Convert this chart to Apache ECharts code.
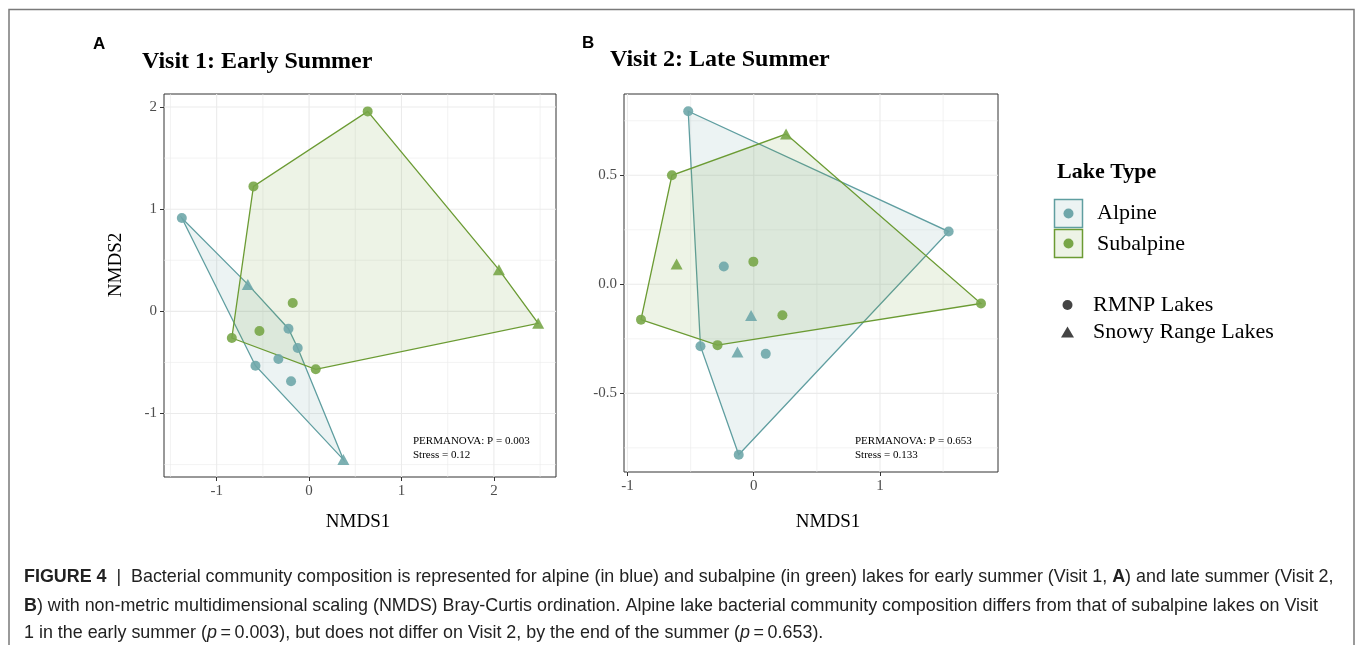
<!DOCTYPE html>
<html>
<head>
<meta charset="utf-8">
<title>NMDS ordination of lake bacterial communities</title>
<script src="https://cdn.jsdelivr.net/npm/echarts@6/dist/echarts.min.js"></script>
<style>
  html, body { margin: 0; padding: 0; background: #ffffff; }
  #chart { width: 1357px; height: 645px; }
</style>
</head>
<body>
<div id="chart"></div>
<script>
// NMDS scores [NMDS1, NMDS2] by visit, lake type and lake group
const v1AlpineRMNP      = [[-1.377, 0.913], [-0.223, -0.170], [-0.123, -0.359], [-0.332, -0.466], [-0.580, -0.532], [-0.195, -0.685]];
const v1AlpineSnowy     = [[-0.663, 0.264], [0.371, -1.451]];
const v1SubalpineRMNP   = [[0.634, 1.957], [-0.602, 1.223], [-0.177, 0.082], [-0.537, -0.192], [-0.836, -0.261], [0.072, -0.567]];
const v1SubalpineSnowy  = [[2.054, 0.408], [2.479, -0.117]];

const v2AlpineRMNP      = [[-0.519, 0.794], [1.544, 0.242], [-0.119, -0.782], [-0.422, -0.284], [-0.237, 0.082], [0.095, -0.319]];
const v2AlpineSnowy     = [[-0.021, -0.143], [-0.129, -0.311]];
const v2SubalpineRMNP   = [[-0.648, 0.500], [1.800, -0.088], [-0.893, -0.162], [-0.287, -0.279], [-0.003, 0.104], [0.227, -0.142]];
const v2SubalpineSnowy  = [[0.256, 0.689], [-0.611, 0.093]];

// Axis ticks and their labels
const v1XTicks = [-1, 0, 1, 2];
const v1YTicks = [-1, 0, 1, 2];
const v2XTicks = [-1, 0, 1];
const v2YTicks = [-0.5, 0, 0.5];
const v2YTickLabels = ['-0.5', '0.0', '0.5'];

// Test statistics printed in each panel
const permanovaP = ['0.003', '0.653'];
const stressValues = ['0.12', '0.133'];

const panelTitles = ['Visit 1: Early Summer', 'Visit 2: Late Summer'];
const lakeTypes = ['Alpine', 'Subalpine'];
const lakeGroups = ['RMNP Lakes', 'Snowy Range Lakes'];

// Colours
const ALPINE_LINE = '#5f9ea0';
const ALPINE_PT = '#6fa7aa';
const SUB_LINE = '#6b9b33';
const SUB_PT = '#78a648';
const GRID_COL = '#ebebeb';
const SERIF = '"Liberation Serif", "DejaVu Serif", serif';
const SANS = '"Liberation Sans", Arial, Helvetica, sans-serif';

function rgba(hex, a) {
  const n = parseInt(hex.slice(1), 16);
  return 'rgba(' + (n >> 16) + ',' + ((n >> 8) & 255) + ',' + (n & 255) + ',' + a + ')';
}

// Convex hull (monotone chain), counter-clockwise
function convexHull(pts) {
  const p = pts.slice().sort((a, b) => a[0] - b[0] || a[1] - b[1]);
  const cross = (o, a, b) => (a[0] - o[0]) * (b[1] - o[1]) - (a[1] - o[1]) * (b[0] - o[0]);
  const lower = [], upper = [];
  for (const q of p) {
    while (lower.length >= 2 && cross(lower[lower.length - 2], lower[lower.length - 1], q) <= 0) lower.pop();
    lower.push(q);
  }
  for (let i = p.length - 1; i >= 0; i--) {
    const q = p[i];
    while (upper.length >= 2 && cross(upper[upper.length - 2], upper[upper.length - 1], q) <= 0) upper.pop();
    upper.push(q);
  }
  upper.pop(); lower.pop();
  return lower.concat(upper);
}

// Axis limits with 5% padding on each side of the data range
function paddedRange(groups, dim) {
  const vals = [].concat(...groups).map(p => p[dim]);
  const lo = Math.min(...vals), hi = Math.max(...vals);
  const pad = (hi - lo) * 0.05;
  return [lo - pad, hi + pad];
}

// Minor grid values halfway between major ticks, kept inside the axis range
function minorValues(ticks, range) {
  const step = ticks[1] - ticks[0];
  const out = [];
  for (let v = ticks[0] - step / 2; v <= range[1]; v += step) {
    if (v >= range[0]) out.push(+v.toFixed(6));
  }
  return out;
}

const panels = [
  { alpine: [v1AlpineRMNP, v1AlpineSnowy], sub: [v1SubalpineRMNP, v1SubalpineSnowy],
    xTicks: v1XTicks, yTicks: v1YTicks, yLabels: v1YTicks.map(String),
    grid: { left: 164, top: 94, width: 392, height: 383 } },
  { alpine: [v2AlpineRMNP, v2AlpineSnowy], sub: [v2SubalpineRMNP, v2SubalpineSnowy],
    xTicks: v2XTicks, yTicks: v2YTicks, yLabels: v2YTickLabels,
    grid: { left: 624, top: 94, width: 374, height: 378 } }
];

const grids = [], xAxes = [], yAxes = [], series = [];

function gridLineSeries(idx, values, dir, width) {
  return {
    type: 'custom', xAxisIndex: idx, yAxisIndex: idx, z: 1, silent: true,
    data: values.map(v => dir === 'x' ? [v, 0] : [0, v]),
    renderItem(params, api) {
      const cs = params.coordSys;
      let shape;
      if (dir === 'x') {
        const x = api.coord([api.value(0), 0])[0];
        shape = { x1: x, y1: cs.y, x2: x, y2: cs.y + cs.height };
      } else {
        const y = api.coord([0, api.value(1)])[1];
        shape = { x1: cs.x, y1: y, x2: cs.x + cs.width, y2: y };
      }
      return { type: 'line', shape: shape, style: { stroke: GRID_COL, lineWidth: width } };
    }
  };
}

function hullSeries(idx, groups, lineColor, name) {
  const hull = convexHull([].concat(...groups));
  return {
    type: 'custom', name: name, xAxisIndex: idx, yAxisIndex: idx, z: 2, silent: true,
    data: hull,
    renderItem(params, api) {
      if (params.dataIndex !== 0) return null;
      return {
        type: 'polygon',
        shape: { points: hull.map(p => api.coord(p)) },
        style: { fill: rgba(lineColor, 0.12), stroke: lineColor, lineWidth: 1.3 }
      };
    }
  };
}

function pointSeries(idx, data, color, symbol, name) {
  return {
    type: 'scatter', name: name, xAxisIndex: idx, yAxisIndex: idx, z: 3, silent: true,
    symbol: symbol,
    symbolSize: symbol === 'triangle' ? [12, 11] : 10,
    itemStyle: { color: color, opacity: 0.9 },
    data: data
  };
}

const tickLabelStyle = { fontFamily: SERIF, fontSize: 15, color: '#4d4d4d' };

panels.forEach((p, i) => {
  const all = p.alpine.concat(p.sub);
  const xr = paddedRange(all, 0), yr = paddedRange(all, 1);
  grids.push(Object.assign({ show: true, borderColor: '#333333', borderWidth: 1, backgroundColor: '#ffffff' }, p.grid));
  xAxes.push({
    gridIndex: i, type: 'value', min: xr[0], max: xr[1],
    axisLine: { show: false, onZero: false },
    axisTick: { show: true, customValues: p.xTicks, length: 4, lineStyle: { color: '#333333', width: 1 } },
    axisLabel: Object.assign({ customValues: p.xTicks, margin: 7, formatter: v => String(Math.round(v)) }, tickLabelStyle),
    splitLine: { show: false }
  });
  yAxes.push({
    gridIndex: i, type: 'value', min: yr[0], max: yr[1],
    axisLine: { show: false, onZero: false },
    axisTick: { show: true, customValues: p.yTicks, length: 4, lineStyle: { color: '#333333', width: 1 } },
    axisLabel: Object.assign({
      customValues: p.yTicks, margin: 7,
      formatter: v => { const k = p.yTicks.findIndex(t => Math.abs(t - v) < 1e-9); return k >= 0 ? p.yLabels[k] : ''; }
    }, tickLabelStyle),
    splitLine: { show: false }
  });
  series.push(gridLineSeries(i, minorValues(p.xTicks, xr), 'x', 0.6));
  series.push(gridLineSeries(i, minorValues(p.yTicks, yr), 'y', 0.6));
  series.push(gridLineSeries(i, p.xTicks, 'x', 1.1));
  series.push(gridLineSeries(i, p.yTicks, 'y', 1.1));
  series.push(hullSeries(i, p.alpine, ALPINE_LINE, lakeTypes[0]));
  series.push(hullSeries(i, p.sub, SUB_LINE, lakeTypes[1]));
  series.push(pointSeries(i, p.alpine[0], ALPINE_PT, 'circle', lakeTypes[0] + ' ' + lakeGroups[0]));
  series.push(pointSeries(i, p.alpine[1], ALPINE_PT, 'triangle', lakeTypes[0] + ' ' + lakeGroups[1]));
  series.push(pointSeries(i, p.sub[0], SUB_PT, 'circle', lakeTypes[1] + ' ' + lakeGroups[0]));
  series.push(pointSeries(i, p.sub[1], SUB_PT, 'triangle', lakeTypes[1] + ' ' + lakeGroups[1]));
});

function txt(x, y, text, font, opts) {
  opts = opts || {};
  return {
    type: 'text', x: x, y: y, rotation: opts.rotation || 0, silent: true, z: 10,
    style: Object.assign({
      text: text, font: font, fill: opts.fill || '#000000',
      align: opts.align || 'left', textAlign: opts.align || 'left',
      verticalAlign: 'middle', textVerticalAlign: 'middle'
    }, opts.extra || {})
  };
}

const graphics = [
  // outer frame
  { type: 'rect', silent: true, z: 0, shape: { x: 9, y: 9.5, width: 1345, height: 700 },
    style: { fill: 'none', stroke: '#7a7a7a', lineWidth: 1.5 } },
  // panel tags and titles
  txt(93, 44, 'A', 'bold 17px ' + SANS),
  txt(582, 43, 'B', 'bold 17px ' + SANS),
  txt(142, 62, panelTitles[0], 'bold 24px ' + SERIF),
  txt(610, 60, panelTitles[1], 'bold 24px ' + SERIF),
  // axis titles
  txt(358, 522, 'NMDS1', '19px ' + SERIF, { align: 'center' }),
  txt(828, 522, 'NMDS1', '19px ' + SERIF, { align: 'center' }),
  txt(116, 265, 'NMDS2', '19px ' + SERIF, { align: 'center', rotation: Math.PI / 2 }),
  // statistics
  txt(413, 441.5, 'PERMANOVA: P = ' + permanovaP[0], '11px ' + SERIF),
  txt(413, 455, 'Stress = ' + stressValues[0], '11px ' + SERIF),
  txt(855, 441.5, 'PERMANOVA: P = ' + permanovaP[1], '11px ' + SERIF),
  txt(855, 455, 'Stress = ' + stressValues[1], '11px ' + SERIF),
  // legend: lake type
  txt(1057, 172, 'Lake Type', 'bold 22px ' + SERIF),
  { type: 'rect', silent: true, z: 10, shape: { x: 1054.5, y: 199.5, width: 28, height: 28 },
    style: { fill: rgba(ALPINE_LINE, 0.12), stroke: ALPINE_LINE, lineWidth: 1.5 } },
  { type: 'circle', silent: true, z: 11, shape: { cx: 1068.5, cy: 213.5, r: 5 }, style: { fill: ALPINE_PT } },
  { type: 'rect', silent: true, z: 10, shape: { x: 1054.5, y: 229.5, width: 28, height: 28 },
    style: { fill: rgba(SUB_LINE, 0.12), stroke: SUB_LINE, lineWidth: 1.5 } },
  { type: 'circle', silent: true, z: 11, shape: { cx: 1068.5, cy: 243.5, r: 5 }, style: { fill: SUB_PT } },
  txt(1097, 213, lakeTypes[0], '22px ' + SERIF),
  txt(1097, 244, lakeTypes[1], '22px ' + SERIF),
  // legend: lake group
  { type: 'circle', silent: true, z: 11, shape: { cx: 1067.5, cy: 305, r: 5 }, style: { fill: '#444444' } },
  { type: 'polygon', silent: true, z: 11, shape: { points: [[1067.5, 326.5], [1074, 337.5], [1061, 337.5]] }, style: { fill: '#444444' } },
  txt(1093, 305, lakeGroups[0], '22px ' + SERIF),
  txt(1093, 332, lakeGroups[1], '22px ' + SERIF)
];

// caption
const capFont = 17.9;
const capRich = {
  n: { fontFamily: SANS, fontSize: capFont, color: '#222222' },
  b: { fontFamily: SANS, fontSize: capFont, fontWeight: 'bold', color: '#222222' },
  i: { fontFamily: SANS, fontSize: capFont, fontStyle: 'italic', color: '#222222' }
};
const captionLines = [
  '{b|FIGURE 4}{n|  |  Bacterial community composition is represented for alpine (in blue) and subalpine (in green) lakes for early summer (Visit 1, }{b|A}{n|) and late summer (Visit 2,}',
  '{b|B}{n|) with non-metric multidimensional scaling (NMDS) Bray-Curtis ordination. Alpine lake bacterial community composition differs from that of subalpine lakes on Visit}',
  '{n|1 in the early summer (}{i|p}{n|\u2009=\u20090.003), but does not differ on Visit 2, by the end of the summer (}{i|p}{n|\u2009=\u20090.653).}'
];
[577, 606, 633].forEach((y, k) => {
  graphics.push(txt(24, y, captionLines[k], capFont + 'px ' + SANS, { fill: '#222222', extra: { rich: capRich } }));
});

const chart = echarts.init(document.getElementById('chart'), null, { renderer: 'canvas' });
chart.setOption({
  backgroundColor: '#ffffff',
  animation: false,
  grid: grids,
  xAxis: xAxes,
  yAxis: yAxes,
  series: series,
  graphic: graphics
});
</script>
</body>
</html>
